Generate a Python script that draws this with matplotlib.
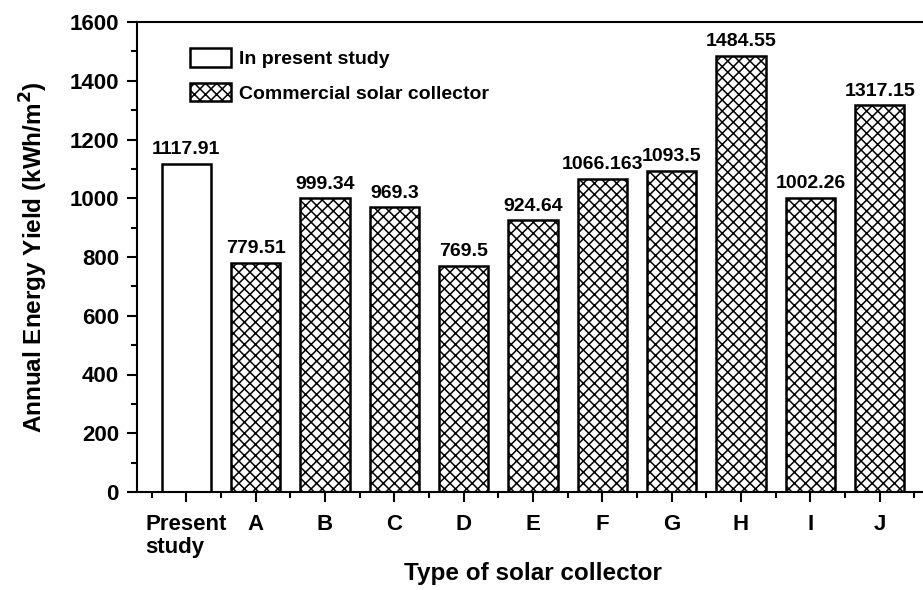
import numpy as np
import matplotlib
matplotlib.use("Agg")
from matplotlib import pyplot as plt
from matplotlib.ticker import MultipleLocator

plt.rcParams['font.family'] = ['Liberation Sans', 'DejaVu Sans']
plt.rcParams['font.weight'] = 'bold'
plt.rcParams['hatch.linewidth'] = 1.1
plt.rcParams['hatch.color'] = 'black'

# collectors and their annual yields
collectors = ['Present\nstudy', 'A', 'B', 'C', 'D', 'E', 'F', 'G', 'H', 'I', 'J']
yields = [1117.91, 779.51, 999.34, 969.3, 769.5, 924.64, 1066.163, 1093.5,
          1484.55, 1002.26, 1317.15]

fig = plt.figure(figsize=(9.23, 5.9), dpi=100)
ax = fig.add_axes([137 / 923, 1 - 492 / 590, 792 / 923, 470 / 590])

x = np.arange(len(collectors))
ax.bar(x[:1], yields[:1], width=0.71, color='white', edgecolor='black',
       linewidth=1.8, label='In present study')
ax.bar(x[1:], yields[1:], width=0.71, color='white', edgecolor='black',
       linewidth=1.8, hatch='xxx', label='Commercial solar collector')

for xi, v in zip(x, yields):
    ax.annotate(str(v), (xi, v), xytext=(0, 4), textcoords='offset points',
                ha='center', va='bottom', fontsize=14, fontweight='bold')

ax.set_xlim(-0.71, 10.71)
ax.set_ylim(0, 1600)
ax.yaxis.set_major_locator(MultipleLocator(200))
ax.yaxis.set_minor_locator(MultipleLocator(100))
ax.set_xticks(x)
ax.set_xticks(np.append(x - 0.5, x[-1] + 0.5), minor=True)
ax.set_xticklabels(collectors, multialignment='left', linespacing=1.1)

for s in ax.spines.values():
    s.set_linewidth(1.5)
ax.tick_params(which='major', length=7, width=1.5, labelsize=16, pad=6)
ax.tick_params(which='minor', length=4, width=1.5)
ax.tick_params(axis='x', which='major', pad=9)

ax.set_ylabel('Annual Energy Yield (kWh/m$^\\mathbf{2}$)', fontsize=17.5,
              fontweight='bold', labelpad=14)
ax.set_xlabel('Type of solar collector', fontsize=17.5, fontweight='bold',
              labelpad=3)

ax.legend(loc='upper left', bbox_to_anchor=(0.055, 0.965), frameon=False,
          fontsize=14, borderpad=0, handlelength=2.1, handleheight=1.1,
          handletextpad=0.4, labelspacing=0.75)

fig.savefig('out.png', dpi=100)
